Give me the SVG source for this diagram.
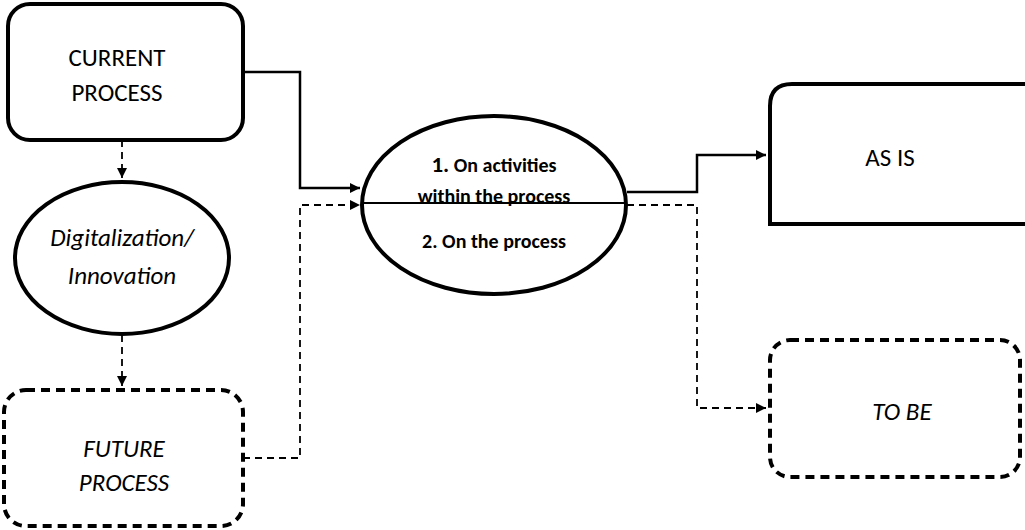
<svg xmlns="http://www.w3.org/2000/svg" width="1025" height="530" viewBox="0 0 1025 530">
<defs>
<marker id="ah" viewBox="0 0 10 10" refX="10" refY="5" markerWidth="10" markerHeight="10" markerUnits="userSpaceOnUse" orient="auto"><path d="M0,0 L10,5 L0,10 z" fill="#000"/></marker>
<style>
.n{fill:#fff;stroke:#000;stroke-width:4}
.d{stroke-dasharray:9,6}
.c{fill:none;stroke:#000;stroke-width:2.5}
.cd{fill:none;stroke:#000;stroke-width:1.8;stroke-dasharray:7,5}
text{font-family:Calibri,Carlito,"Open Sans","Liberation Sans",sans-serif;font-size:25px;text-anchor:middle}
.i{font-style:italic}
.b{font-weight:bold;font-size:20px}
</style>
</defs>
<rect width="1025" height="530" fill="#fff"/>
<g id="connectors">
<path class="cd" d="M122,140 V178" marker-end="url(#ah)"/>
<path class="cd" d="M122,335 V386" marker-end="url(#ah)"/>
<path class="c" d="M243,72 H300 V188 H360" marker-end="url(#ah)"/>
<path class="cd" d="M243,458 H300 V205 H360" marker-end="url(#ah)"/>
<path class="c" d="M627,192 H697 V155 H766" marker-end="url(#ah)"/>
<path class="cd" d="M627,205 H697 V408 H766" marker-end="url(#ah)"/>
</g>
<g id="current"><rect class="n" x="8" y="4" width="235" height="136" rx="22"/><text x="117" y="66">CURRENT</text><text x="117" y="101">PROCESS</text></g>
<g id="digital"><ellipse class="n" cx="122" cy="258" rx="107" ry="76"/><text class="i" x="122" y="246">Digitalization/</text><text class="i" x="122" y="284">Innovation</text></g>
<g id="future"><rect class="n d" x="4" y="390" width="239" height="136" rx="22"/><text class="i" x="124" y="457">FUTURE</text><text class="i" x="124" y="491">PROCESS</text></g>
<g id="center"><ellipse class="n" cx="494" cy="205" rx="132" ry="89"/><line x1="362" y1="203" x2="626" y2="203" stroke="#000" stroke-width="2"/>
<text class="b" x="494" y="172"><tspan font-size="23">1.</tspan> On activities</text><text class="b" x="494" y="203">within the process</text><text class="b" x="494" y="248">2. On the process</text></g>
<g id="asis"><path class="n" d="M1030,84 H792 Q770,84 770,106 V224 H1030" /><text x="890" y="166">AS IS</text></g>
<g id="tobe"><rect class="n d" x="770" y="340" width="250" height="137" rx="20"/><text class="i" x="902" y="420">TO BE</text></g>
</svg>
